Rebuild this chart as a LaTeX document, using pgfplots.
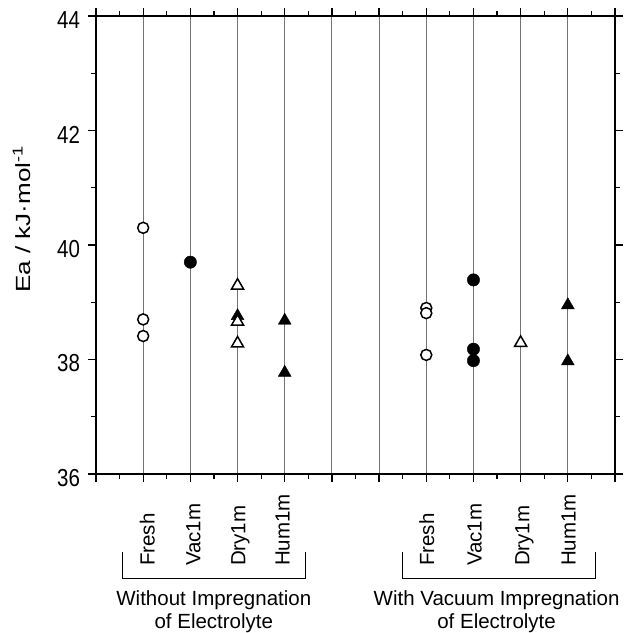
\documentclass[border=0pt]{standalone}
\usepackage{fontspec}
\setmainfont{Liberation Sans}
\usepackage{graphicx}
\usepackage{pgfplots}
\pgfplotsset{compat=1.18}

\begin{document}
\fontsize{20.5bp}{22.7bp}\selectfont
\begin{tikzpicture}[catlab/.style={rotate=90, anchor=mid west, inner sep=0pt}]
\begin{axis}[
  name=ax,
  scale only axis,
  width=519bp, height=458bp,
  xmin=0, xmax=11, ymin=36, ymax=44,
  xtick={0,...,11}, xticklabels={},
  minor x tick num=1,
  ytick={36,38,40,42,44},
  yticklabel={\scalebox{1}[1.2]{\pgfmathprintnumber{\tick}}},
  minor y tick num=1,
  tick align=outside,
  major tick length=8bp,
  minor tick length=5bp,
  tick style={black, line width=1.2bp},
  axis line style={line width=1.6bp},
  xmajorgrids,
  major grid style={black!55, line width=1bp},
  /pgf/number format/assume math mode=true,
  yticklabel style={font=\fontsize{20.5bp}{24bp}\selectfont, yshift=-4bp, xshift=-1bp},
  ylabel={\scalebox{1.27}[1]{Ea / kJ\textperiodcentered mol\textsuperscript{-1}}},
  every axis y label/.style={at={(axis description cs:-0.127,0.556)}, rotate=90, anchor=base},
  clip=false,
]
% open circles
\addplot[only marks, mark=*, mark size=5.5bp, draw=black, fill=white, line width=1.5bp]
  coordinates {(1,40.30) (1,38.70) (1,38.41) (7,38.90) (7,38.81) (7,38.08)};
% filled circles
\addplot[only marks, mark=*, mark size=6.2bp, draw=black, fill=black]
  coordinates {(2,39.70) (8,39.39) (8,38.18) (8,37.98)};
% filled triangles
\addplot[only marks, mark=triangle*, mark size=7.4bp, draw=black, fill=black]
  coordinates {(3,38.76) (4,38.68) (4,37.77) (10,38.95) (10,37.97)};
% open triangles
\addplot[only marks, mark=triangle*, mark size=7.0bp, draw=black, fill=white, line width=1.5bp]
  coordinates {(3,39.29) (3,38.66) (3,38.28) (9,38.29)};

% category labels
\node[catlab] at (axis cs:1.13,34.39) {Fresh};
\node[catlab] at (axis cs:2.10,34.39) {Vac1m};
\node[catlab] at (axis cs:3.05,34.39) {Dry1m};
\node[catlab] at (axis cs:3.99,34.39) {Hum1m};
\node[catlab] at (axis cs:7.05,34.39) {Fresh};
\node[catlab] at (axis cs:8.06,34.39) {Vac1m};
\node[catlab] at (axis cs:9.07,34.39) {Dry1m};
\node[catlab] at (axis cs:10.05,34.39) {Hum1m};

% group brackets
\draw[line width=1bp] (axis cs:0.557,34.63) -- (axis cs:0.557,34.166)
  -- (axis cs:4.445,34.166) -- (axis cs:4.445,34.63);
\draw[line width=1bp] (axis cs:6.50,34.63) -- (axis cs:6.50,34.166)
  -- (axis cs:10.59,34.166) -- (axis cs:10.59,34.63);
\node[anchor=north, align=center, inner sep=0pt] at (axis cs:2.497,33.965)
  {Without Impregnation\\of Electrolyte};
\node[anchor=north, align=center, inner sep=0pt] at (axis cs:8.49,33.965)
  {With Vacuum Impregnation\\of Electrolyte};
\end{axis}
\pgfresetboundingbox
\path[use as bounding box] ([shift={(-96bp,-159bp)}]ax.south west)
  rectangle ([shift={(540bp,474bp)}]ax.south west);
\end{tikzpicture}
\end{document}
